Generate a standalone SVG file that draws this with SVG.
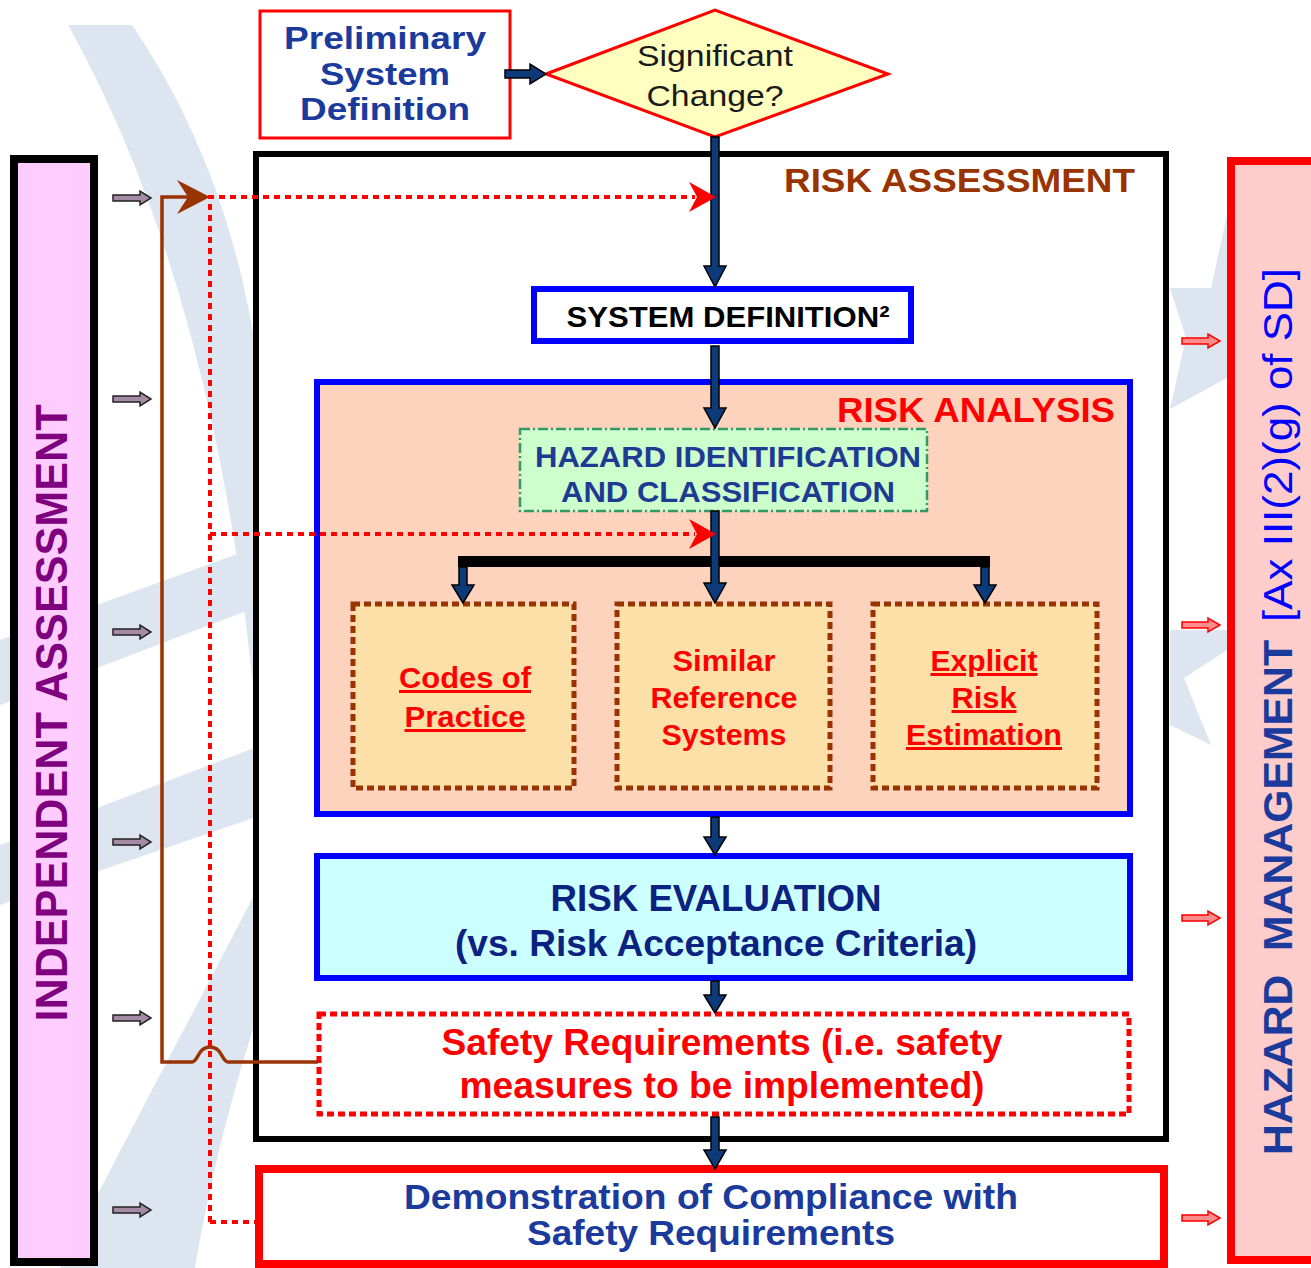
<svg xmlns="http://www.w3.org/2000/svg" width="1311" height="1268" viewBox="0 0 1311 1268">
<style>
.wm{fill:#dce5f0;stroke:none}
.b{font-family:"Liberation Sans",Arial,sans-serif;font-weight:bold}
.r{font-family:"Liberation Sans",Arial,sans-serif;font-weight:normal}
.navy{fill:#1a3a9c}
.dnavy{fill:#0c2280}
.red{fill:#ff0000}
.arr{fill:#0d3b7a;stroke:#000;stroke-width:1.5;stroke-linejoin:miter}
.la{fill:#a48aa4;stroke:#222;stroke-width:1.5}
.ra{fill:#ff8c8c;stroke:#ff0000;stroke-width:1.5}
.dot{fill:none;stroke:#ff0000;stroke-width:4;stroke-dasharray:6 5}
.cbox{fill:#fde0a8;stroke:#993300;stroke-width:5;stroke-dasharray:7 4}
</style>
<rect width="1311" height="1268" fill="#ffffff"/>
<g id="watermark">
<path class="wm" d="M68,25 L132,25 C190,110 245,230 262,400 L262,800 C248,560 200,260 68,25 Z"/>
<polygon class="wm" points="0,640 262,545 262,605 0,705"/>
<polygon class="wm" points="0,845 262,745 262,815 0,905"/>
<path class="wm" d="M60,1268 C130,1130 200,1000 262,880 L262,1000 C230,1100 210,1180 195,1268 Z"/>
<polygon class="wm" points="1227,215 1211,288 1170,288 1186,338 1170,409 1227,378"/>
<polygon class="wm" points="1170,630 1227,630 1227,650 1184,678 1211,745 1170,725"/>
</g>

<g id="independent-assessment">
<rect x="14" y="159" width="80" height="1103" fill="#ffccff" stroke="#000" stroke-width="8"/>
<text class="b" fill="#7f007f" font-size="44" text-anchor="middle" textLength="617" lengthAdjust="spacingAndGlyphs" transform="translate(67,713) rotate(-90)">INDEPENDENT ASSESSMENT</text>
</g>

<g id="hazard-management">
<rect x="1231" y="161" width="200" height="1099" fill="#ffcccc" stroke="#ff0000" stroke-width="8"/>
<text class="b navy" font-size="40" xml:space="preserve" textLength="515" lengthAdjust="spacingAndGlyphs" transform="translate(1292,1155) rotate(-90)">HAZARD  MANAGEMENT</text>
<text class="r" fill="#0000ff" font-size="40" textLength="354" lengthAdjust="spacingAndGlyphs" transform="translate(1292,622) rotate(-90)">[Ax III(2)(g) of SD]</text>
</g>

<g id="risk-assessment">
<rect x="256" y="154" width="910" height="985" fill="#ffffff" stroke="#000" stroke-width="6"/>
<text class="b" fill="#993300" font-size="34" text-anchor="end" x="1135" y="192" textLength="351" lengthAdjust="spacingAndGlyphs">RISK ASSESSMENT</text>
</g>

<g id="preliminary">
<rect x="260" y="11" width="250" height="127" fill="#ffffff" stroke="#ff0000" stroke-width="3"/>
<text class="b navy" font-size="32" text-anchor="middle" x="385" y="49" textLength="202" lengthAdjust="spacingAndGlyphs">Preliminary</text>
<text class="b navy" font-size="32" text-anchor="middle" x="385" y="85" textLength="130" lengthAdjust="spacingAndGlyphs">System</text>
<text class="b navy" font-size="32" text-anchor="middle" x="385" y="120" textLength="170" lengthAdjust="spacingAndGlyphs">Definition</text>
</g>

<g id="significant-change">
<polygon points="546,74 715,10 888,74 715,137" fill="#ffffc0" stroke="#ff0000" stroke-width="3"/>
<text class="r" fill="#1a1a1a" font-size="30" text-anchor="middle" x="715" y="66" textLength="156" lengthAdjust="spacingAndGlyphs">Significant</text>
<text class="r" fill="#1a1a1a" font-size="30" text-anchor="middle" x="715" y="106" textLength="137" lengthAdjust="spacingAndGlyphs">Change?</text>
</g>

<g id="system-definition">
<rect x="534" y="289" width="377" height="52" fill="#ffffff" stroke="#0000ff" stroke-width="6"/>
<text class="b" fill="#000" font-size="30" text-anchor="middle" x="728" y="327" textLength="323" lengthAdjust="spacingAndGlyphs">SYSTEM DEFINITION²</text>
</g>

<g id="risk-analysis">
<rect x="317" y="382" width="813" height="432" fill="#fdd3bd" stroke="#0000ff" stroke-width="6"/>
<text class="b red" font-size="35" text-anchor="end" x="1115" y="422" textLength="278" lengthAdjust="spacingAndGlyphs">RISK ANALYSIS</text>
</g>

<g id="hazard-identification">
<rect x="520" y="429" width="407" height="82" fill="#ccffcc" stroke="#339966" stroke-width="2.5" stroke-dasharray="10 3 2 3"/>
<text class="b" fill="#1f3a93" font-size="30" text-anchor="middle" x="728" y="467" textLength="386" lengthAdjust="spacingAndGlyphs">HAZARD IDENTIFICATION</text>
<text class="b" fill="#1f3a93" font-size="30" text-anchor="middle" x="728" y="502" textLength="334" lengthAdjust="spacingAndGlyphs">AND CLASSIFICATION</text>
</g>

<g id="codes-of-practice">
<rect class="cbox" x="353" y="604" width="221" height="184"/>
<text class="b red" font-size="30" text-anchor="middle" x="465" y="688" textLength="132" lengthAdjust="spacingAndGlyphs" text-decoration="underline">Codes of</text>
<text class="b red" font-size="30" text-anchor="middle" x="465" y="727" textLength="121" lengthAdjust="spacingAndGlyphs" text-decoration="underline">Practice</text>
</g>

<g id="similar-reference-systems">
<rect class="cbox" x="617" y="604" width="213" height="184"/>
<text class="b red" font-size="30" text-anchor="middle" x="724" y="671" textLength="103" lengthAdjust="spacingAndGlyphs">Similar</text>
<text class="b red" font-size="30" text-anchor="middle" x="724" y="708" textLength="147" lengthAdjust="spacingAndGlyphs">Reference</text>
<text class="b red" font-size="30" text-anchor="middle" x="724" y="745" textLength="125" lengthAdjust="spacingAndGlyphs">Systems</text>
</g>

<g id="explicit-risk-estimation">
<rect class="cbox" x="873" y="604" width="224" height="184"/>
<text class="b red" font-size="30" text-anchor="middle" x="984" y="671" textLength="107" lengthAdjust="spacingAndGlyphs" text-decoration="underline">Explicit</text>
<text class="b red" font-size="30" text-anchor="middle" x="984" y="708" textLength="65" lengthAdjust="spacingAndGlyphs" text-decoration="underline">Risk</text>
<text class="b red" font-size="30" text-anchor="middle" x="984" y="745" textLength="156" lengthAdjust="spacingAndGlyphs" text-decoration="underline">Estimation</text>
</g>

<g id="risk-evaluation">
<rect x="317" y="856" width="813" height="122" fill="#ccffff" stroke="#0000ff" stroke-width="6"/>
<text class="b dnavy" font-size="36" text-anchor="middle" x="716" y="911" textLength="331" lengthAdjust="spacingAndGlyphs">RISK EVALUATION</text>
<text class="b dnavy" font-size="36" text-anchor="middle" x="716" y="956" textLength="522" lengthAdjust="spacingAndGlyphs">(vs. Risk Acceptance Criteria)</text>
</g>

<g id="safety-requirements">
<rect x="319" y="1014" width="810" height="100" fill="#ffffff" stroke="#ff0000" stroke-width="5" stroke-dasharray="7 4"/>
<text class="b red" font-size="36" text-anchor="middle" x="722" y="1055" textLength="561" lengthAdjust="spacingAndGlyphs">Safety Requirements (i.e. safety</text>
<text class="b red" font-size="36" text-anchor="middle" x="722" y="1098" textLength="525" lengthAdjust="spacingAndGlyphs">measures to be implemented)</text>
</g>

<g id="demonstration">
<rect x="259" y="1169" width="905" height="95" fill="#ffffff" stroke="#ff0000" stroke-width="8"/>
<text class="b navy" font-size="35" text-anchor="middle" x="711" y="1209" textLength="614" lengthAdjust="spacingAndGlyphs">Demonstration of Compliance with</text>
<text class="b navy" font-size="35" text-anchor="middle" x="711" y="1245" textLength="368" lengthAdjust="spacingAndGlyphs">Safety Requirements</text>
</g>

<g id="connectors">
<rect x="458" y="556" width="532" height="11" fill="#000"/>
<polygon class="arr" points="505,70 530,70 530,64 546,74 530,84 530,78 505,78"/>
<polygon class="arr" points="711,137 719,137 719,266 726,266 715,287 704,266 711,266"/>
<polygon class="arr" points="711,346 719,346 719,408 726,408 715,428 704,408 711,408"/>
<polygon class="arr" points="711,511 719,511 719,583 726,583 715,603 704,583 711,583"/>
<polygon class="arr" points="459,567 467,567 467,585 474,585 463,603 452,585 459,585"/>
<polygon class="arr" points="981,567 989,567 989,585 996,585 985,603 974,585 981,585"/>
<polygon class="arr" points="711,817 719,817 719,837 726,837 715,855 704,837 711,837"/>
<polygon class="arr" points="711,981 719,981 719,995 726,995 715,1013 704,995 711,995"/>
<polygon class="arr" points="711,1117 719,1117 719,1150 726,1150 715,1169 704,1150 711,1150"/>

<path d="M318,1062 L228,1062 C222,1062 222,1047 210,1047 C198,1047 198,1062 192,1062 L162,1062 L162,197 L196,197" fill="none" stroke="#993300" stroke-width="3.5"/>
<polygon points="210,197 177,180 188,197 177,214" fill="#993300"/>

<path class="dot" d="M210,1222 L210,197 L695,197"/>
<path class="dot" d="M210,534 L695,534"/>
<path class="dot" d="M210,1222 L255,1222"/>
<polygon points="716,197 689,182 697,197 689,212" fill="#ff0000"/>
<polygon points="716,534 689,519 697,534 689,549" fill="#ff0000"/>

<polygon class="la" points="113,195 140,195 140,191 151,198 140,205 140,201 113,201"/>
<polygon class="la" points="113,396 140,396 140,392 151,399 140,406 140,402 113,402"/>
<polygon class="la" points="113,629 140,629 140,625 151,632 140,639 140,635 113,635"/>
<polygon class="la" points="113,839 140,839 140,835 151,842 140,849 140,845 113,845"/>
<polygon class="la" points="113,1015 140,1015 140,1011 151,1018 140,1025 140,1021 113,1021"/>
<polygon class="la" points="113,1207 140,1207 140,1203 151,1210 140,1217 140,1213 113,1213"/>

<polygon class="ra" points="1182,338 1208,338 1208,334 1220,341 1208,348 1208,344 1182,344"/>
<polygon class="ra" points="1182,622 1208,622 1208,618 1220,625 1208,632 1208,628 1182,628"/>
<polygon class="ra" points="1182,915 1208,915 1208,911 1220,918 1208,925 1208,921 1182,921"/>
<polygon class="ra" points="1182,1215 1208,1215 1208,1211 1220,1218 1208,1225 1208,1221 1182,1221"/>
</g>
</svg>
